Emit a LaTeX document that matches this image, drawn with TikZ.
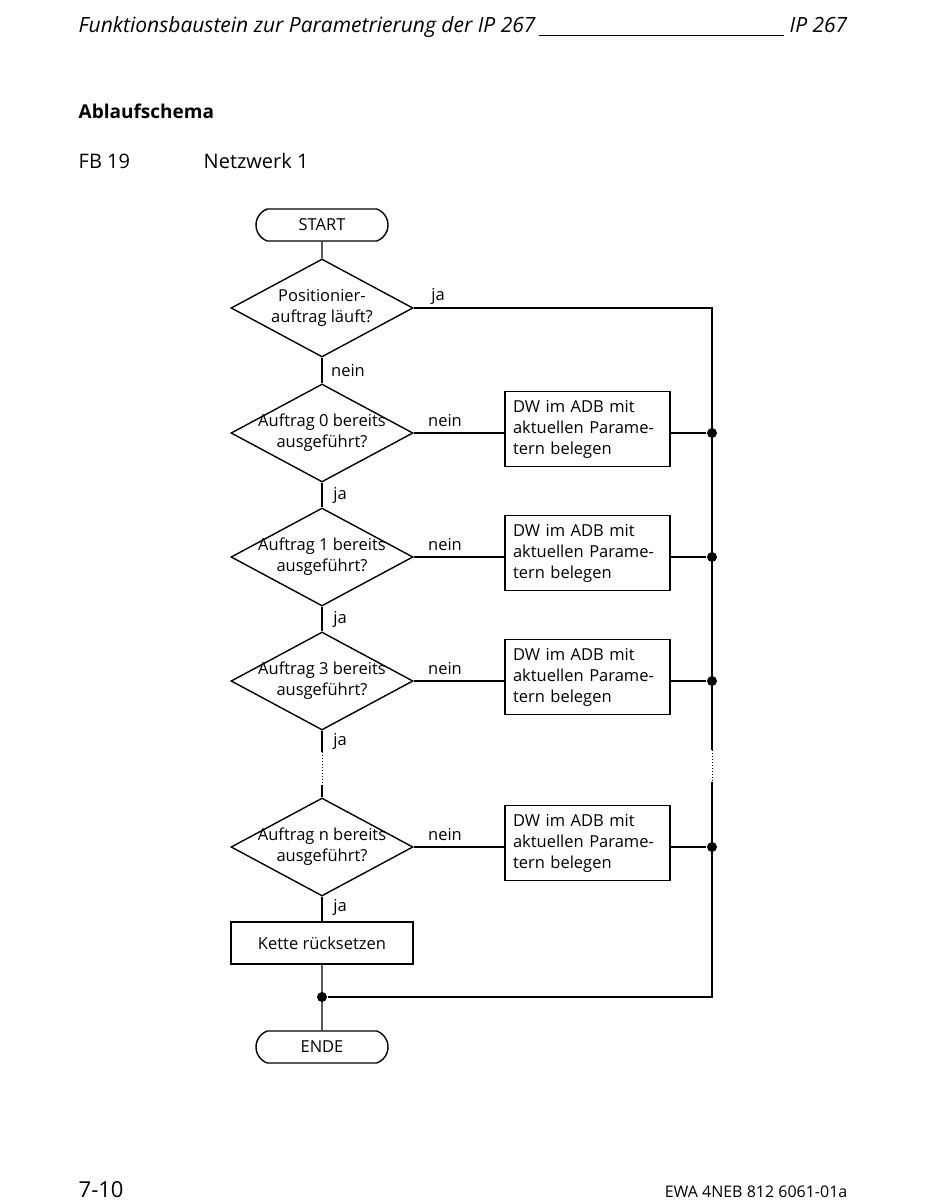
\documentclass[tikz,border=0pt]{standalone}
\usepackage{fontspec}
\setmainfont{Open Sans}
\usetikzlibrary{shapes.geometric, shapes.misc, positioning, calc}

\begin{document}
\begin{tikzpicture}[x=1pt, y=-1pt, line width=1.4pt,
  every node/.style={font=\fontsize{16.5}{21}\selectfont},
  pagetext/.style={inner sep=0pt, font=\fontsize{20}{24}\selectfont},
  terminal/.style={draw, rounded rectangle, rounded rectangle arc length=140,
    minimum width=132pt, minimum height=32pt, inner sep=0pt},
  decision/.style={draw, diamond, aspect=1.857, minimum width=182pt,
    minimum height=98pt, inner xsep=-9pt, inner ysep=-4pt, align=center},
  action/.style={draw, rectangle, minimum width=165pt, minimum height=75pt,
    text width=149pt, inner xsep=8pt, align=left},
  junction/.style={circle, fill, inner sep=0pt, minimum size=10pt}]
  \useasboundingbox (0,0) rectangle (950,1204);
  % Page header
  \node[pagetext, anchor=base west, font=\fontsize{21}{25}\selectfont\itshape] (title) at (78,33)
    {Funktionsbaustein zur Parametrierung der IP 267};
  \node[pagetext, anchor=base east, font=\fontsize{21}{25}\selectfont\itshape] (ip) at (848,33) {IP 267};
  \draw[line width=0.9pt] ($(title.base east)+(3,2)$) -- ($(ip.base west)+(-5,2)$);
  \node[pagetext, anchor=base west, font=\fontsize{19}{23}\selectfont\bfseries] (heading) at (78,118) {Ablaufschema};
  \node[pagetext, anchor=base west] (fb) at (78,168) {FB 19};
  \node[pagetext, anchor=base west] (nw) at (203,168) {Netzwerk 1};
  % Flow chart
  \node[terminal] (start) at (322,225) {START};
  \node[decision] (q) at (322,308) {Positionier-\\auftrag läuft?};
  \node[decision] (a0) at (322,433) {Auftrag 0 bereits\\ausgeführt?};
  \node[decision] (a1) at (322,557) {Auftrag 1 bereits\\ausgeführt?};
  \node[decision] (a3) at (322,681) {Auftrag 3 bereits\\ausgeführt?};
  \node[decision] (an) at (322,847) {Auftrag n bereits\\ausgeführt?};
  \node[draw, minimum width=182pt, minimum height=42pt] (reset) at (322,943) {Kette rücksetzen};
  \node[junction] (jend) at (322,997) {};
  \node[terminal] (end) at (322,1047) {ENDE};
  % Parameter boxes
  \node[action] (p0) at (587.5,429) {DW im ADB mit\\aktuellen Parame-\\tern belegen};
  \node[action] (p1) at (587.5,553) {DW im ADB mit\\aktuellen Parame-\\tern belegen};
  \node[action] (p3) at (587.5,677) {DW im ADB mit\\aktuellen Parame-\\tern belegen};
  \node[action] (pn) at (587.5,843) {DW im ADB mit\\aktuellen Parame-\\tern belegen};
  % Right bus
  \coordinate (bustop) at (712,308);
  \coordinate (gapr1) at (712,750);
  \coordinate (gapr2) at (712,782);
  \coordinate (busend) at (712,997);
  \node[junction] (j0) at (712,433) {};
  \node[junction] (j1) at (712,557) {};
  \node[junction] (j3) at (712,681) {};
  \node[junction] (jn) at (712,847) {};
  % Main line
  \coordinate (gapl1) at (322,752);
  \coordinate (gapl2) at (322,785);
  \draw (start) -- (q);
  \draw (q) -- (a0);
  \draw (a0) -- (a1);
  \draw (a1) -- (a3);
  \draw (a3.south) -- (gapl1);
  \draw[dotted, line width=1pt] (gapl1) -- (gapl2);
  \draw (gapl2) -- (an.north);
  \draw (an) -- (reset);
  \draw (reset) -- (end);
  % Branches
  \draw (q.east) -- (bustop) -- (gapr1);
  \draw[dotted, line width=1pt] (gapr1) -- (gapr2);
  \draw (gapr2) -- (busend) -- (jend);
  \draw (a0.east) -- (a0.east -| p0.west);
  \draw (a1.east) -- (a1.east -| p1.west);
  \draw (a3.east) -- (a3.east -| p3.west);
  \draw (an.east) -- (an.east -| pn.west);
  \draw (j0 -| p0.east) -- (j0);
  \draw (j1 -| p1.east) -- (j1);
  \draw (j3 -| p3.east) -- (j3);
  \draw (jn -| pn.east) -- (jn);
  % Labels
  \node (lq) at (438,296) {ja};
  \node (lqn) at (348,371) {nein};
  \node (l0) at (445,421) {nein};
  \node (l0j) at (340,495) {ja};
  \node (l1) at (445,545) {nein};
  \node (l1j) at (340,619) {ja};
  \node (l3) at (445,669) {nein};
  \node (l3j) at (340,741) {ja};
  \node (ln) at (445,835) {nein};
  \node (lnj) at (340,907) {ja};
  % Page footer
  \node[pagetext, anchor=base west, font=\fontsize{22}{26}\selectfont] (page) at (78,1197) {7-10};
  \node[pagetext, anchor=base east, font=\fontsize{16}{20}\selectfont] (doc) at (848,1197) {EWA 4NEB 812 6061-01a};
\end{tikzpicture}
\end{document}
